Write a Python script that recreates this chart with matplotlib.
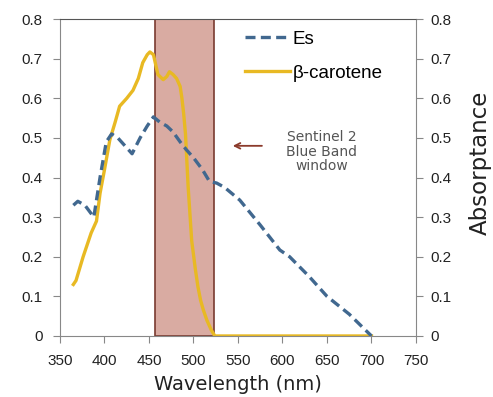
import numpy as np
import matplotlib.pyplot as plt

# Es (dashed)
es_wl = [365, 370, 378, 388, 395, 402, 408, 415, 423, 431, 440, 448, 455, 462, 470, 477,
         485, 492, 500, 510, 518, 526, 535, 552, 575, 597, 608, 630, 650, 675, 700]
es_val = [0.33, 0.34, 0.33, 0.30, 0.40, 0.49, 0.51, 0.50, 0.48, 0.46, 0.50, 0.53, 0.553, 0.54,
          0.53, 0.515, 0.49, 0.47, 0.45, 0.42, 0.39, 0.386, 0.375, 0.343, 0.28, 0.217, 0.20,
          0.15, 0.10, 0.055, 0.0]

# beta-carotene
bc_wl = [365, 368, 376, 385, 391, 395, 400, 406, 412, 417, 425, 432, 438, 443, 448, 451, 455,
         460, 466, 470, 473, 477, 481, 485, 487, 489, 491, 494, 498, 502, 505, 508, 511, 515,
         520, 524, 530, 600, 700]
bc_val = [0.13, 0.14, 0.20, 0.26, 0.29, 0.36, 0.42, 0.495, 0.54, 0.58, 0.60, 0.62, 0.65, 0.69,
          0.71, 0.717, 0.71, 0.66, 0.647, 0.655, 0.667, 0.66, 0.65, 0.63, 0.60, 0.56, 0.51,
          0.376, 0.24, 0.17, 0.124, 0.09, 0.066, 0.04, 0.015, 0.0, 0.0, 0.0, 0.0]

band = (457, 523)
xticks = np.arange(350, 751, 50)
yticks = np.round(np.arange(0, 0.81, 0.1), 1)

plt.rcParams['font.family'] = ['Liberation Sans', 'DejaVu Sans']

fig = plt.figure(figsize=(4.93, 3.97), dpi=100)
ax = fig.add_axes([0.1217, 0.1537, 0.7221, 0.7983])

ax.axvspan(band[0], band[1], facecolor='#d9aba2', edgecolor='#7a3b30', lw=1.2, zorder=1)
ax.plot(es_wl, es_val, ls=(0, (3, 1.6)), color='#41688f', lw=2.4, label='Es', zorder=3)
ax.plot(bc_wl, bc_val, color='#e8b923', lw=2.4, label='β-carotene', zorder=2)

ax.set_xlim(350, 750)
ax.set_ylim(0, 0.8)
ax.set_xticks(xticks)
ax.set_yticks(yticks)
ax.set_yticklabels(['0' if v == 0 else f'{v:.1f}' for v in yticks])
ax.tick_params(direction='out', length=5, color='#888888', labelsize=11, labelcolor='#222222')
ax.tick_params(axis='x', pad=8)
ax.tick_params(axis='y', pad=7.5)
ax.set_xlabel('Wavelength (nm)', fontsize=14, color='#222222', labelpad=5,
              family=['DejaVu Sans'])

for s in ['left', 'bottom', 'right']:
    ax.spines[s].set_color('#888888')
ax.spines['top'].set_color('#555555')

ax2 = ax.twinx()
ax2.set_ylim(0, 0.8)
ax2.set_yticks(yticks)
ax2.set_yticklabels(['0' if v == 0 else f'{v:.1f}' for v in yticks])
ax2.tick_params(direction='out', length=5, color='#888888', labelsize=11, labelcolor='#222222',
                pad=5.5)
ax2.set_ylabel('Absorptance', fontsize=16.5, color='#222222', family=['DejaVu Sans'])
ax2.yaxis.set_label_coords(1.149, 0.545)
for s in ax2.spines.values():
    s.set_visible(False)

ax.legend(loc='upper left', bbox_to_anchor=(0.472, 1.016), frameon=False, fontsize=13.5,
          handlelength=2.4, handletextpad=0.15, labelspacing=0.9)

ax.annotate('', xy=(541, 0.48), xytext=(580, 0.48),
            arrowprops=dict(arrowstyle='->', color='#8b3a2b', lw=1.3))
ax.text(644, 0.465, 'Sentinel 2\nBlue Band\nwindow', ha='center', va='center',
        fontsize=10, color='#555555', linespacing=1.05, family=['DejaVu Sans'])

fig.savefig('out.png', dpi=100)
